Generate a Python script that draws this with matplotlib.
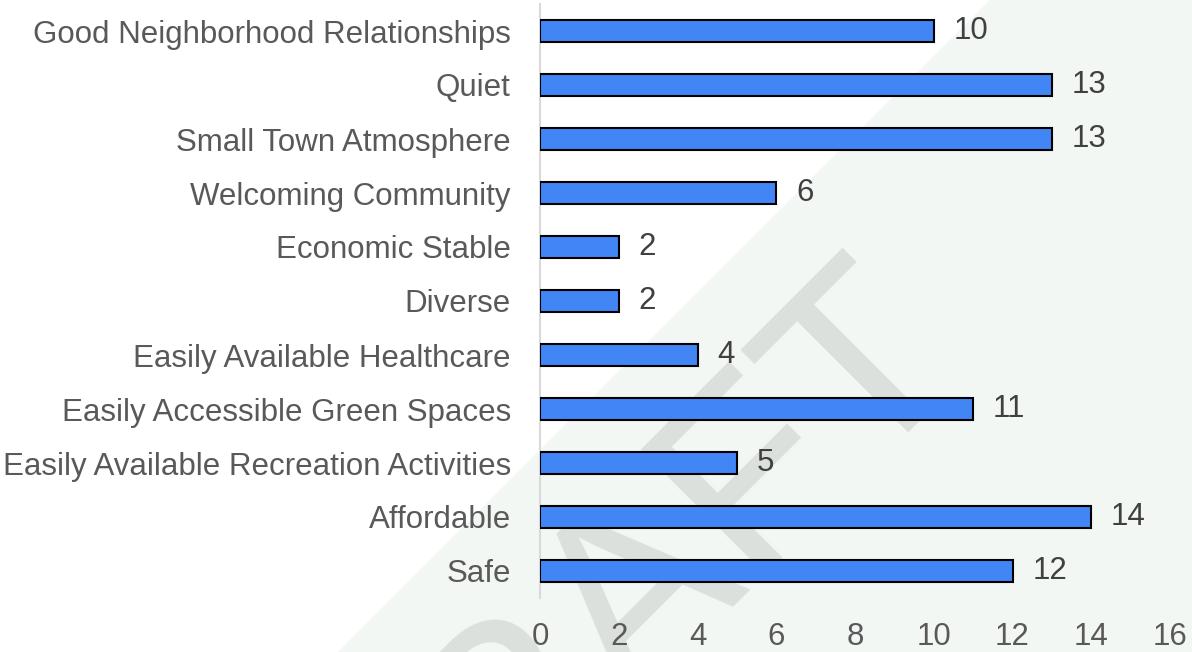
import matplotlib
matplotlib.use("Agg")
import matplotlib.pyplot as plt
from matplotlib.patches import Polygon

categories = [
    "Safe",
    "Affordable",
    "Easily Available Recreation Activities",
    "Easily Accessible Green Spaces",
    "Easily Available Healthcare",
    "Diverse",
    "Economic Stable",
    "Welcoming Community",
    "Small Town Atmosphere",
    "Quiet",
    "Good Neighborhood Relationships",
]
values = [12, 14, 5, 11, 4, 2, 2, 6, 13, 13, 10]
x_ticks = [0, 2, 4, 6, 8, 10, 12, 14, 16]

W, H = 1192, 652
fig = plt.figure(figsize=(W / 100, H / 100), dpi=100)
fig.patch.set_facecolor("white")

plt.rcParams["font.family"] = ["Liberation Sans", "DejaVu Sans"]

# watermark band + text (figure coordinates)
def fp(x, y):
    return (x / W, 1 - y / H)

band = Polygon([fp(990, 0), fp(W + 5, 0), fp(W + 5, H + 5), fp(990 - H - 5, H + 5)],
               closed=True, transform=fig.transFigure, facecolor="#f3f7f4",
               edgecolor="none", zorder=-3)
fig.patches.append(band)
fig.text(665 / W, 1 - 655 / H, "DRAFT", transform=fig.transFigure,
         fontsize=184, color="#dbe0dc", rotation=45, rotation_mode="anchor",
         ha="center", va="baseline", zorder=-2, family="Liberation Sans")

ax = fig.add_axes([540 / W, (H - 598) / H, (1170 - 540) / W, 594 / H])
ax.set_facecolor("none")
ax.set_zorder(1)

y = list(range(len(categories)))
ax.barh(y, values, height=0.4, color="#4285f4", edgecolor="black", linewidth=1.5, zorder=3)

for yi, v in zip(y, values):
    ax.text(v + 0.5, yi, str(v), va="center", ha="left", fontsize=22.5, color="#404040")

ax.set_xlim(0, 16)
ax.set_ylim(-0.5, len(categories) - 0.5)
ax.set_xticks(x_ticks)
ax.set_xticklabels([str(t) for t in x_ticks])
ax.set_yticks(y)
ax.set_yticklabels(categories)
ax.tick_params(axis="both", length=0, labelsize=22.5, labelcolor="#595959")
ax.tick_params(axis="y", pad=21)
ax.tick_params(axis="x", pad=17)

for s in ["top", "right", "bottom"]:
    ax.spines[s].set_visible(False)
ax.spines["left"].set_color("#d9d9d9")
ax.spines["left"].set_linewidth(1.5)

fig.savefig("out.png", dpi=100)
